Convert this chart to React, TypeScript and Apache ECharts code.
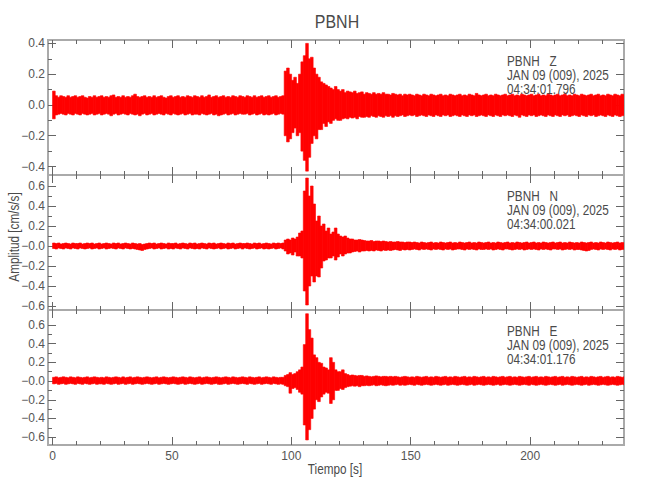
import React, { useEffect, useRef } from 'react';
import * as echarts from 'echarts';

// ---- texts ----
const STATION = 'PBNH';
const COMPONENTS = ['Z', 'N', 'E'];
const DATE_LABEL = 'JAN 09 (009), 2025';
const START_TIMES = ['04:34:01.796', '04:34:00.021', '04:34:01.176'];
const X_NAME = 'Tiempo [s]';
const Y_NAME = 'Amplitud [cm/s/s]';

// ---- axes ----
const X_MIN = -1.9;
const X_MAX = 239.3;
const X_MAJOR = [0, 50, 100, 150, 200];
const X_MINOR = [10, 20, 30, 40, 60, 70, 80, 90, 110, 120, 130, 140, 160, 170, 180, 190, 210, 220, 230];

const Y_MIN = [-0.455, -0.64, -0.684];
const Y_MAX = [0.422, 0.71, 0.76];
const Y_MAJOR = [
  [-0.4, -0.2, 0, 0.2, 0.4],
  [-0.6, -0.4, -0.2, 0, 0.2, 0.4, 0.6],
  [-0.6, -0.4, -0.2, 0, 0.2, 0.4, 0.6],
];
const Y_LABELS = [
  ['\u22120.4', '\u22120.2', '0.0', '0.2', '0.4'],
  ['\u22120.6', '\u22120.4', '\u22120.2', '\u22120.0', '0.2', '0.4', '0.6'],
  ['\u22120.6', '\u22120.4', '\u22120.2', '\u22120.0', '0.2', '0.4', '0.6'],
];
const Y_MINOR = [
  [-0.3, -0.1, 0.1, 0.3],
  [-0.5, -0.3, -0.1, 0.1, 0.3, 0.5],
  [-0.5, -0.3, -0.1, 0.1, 0.3, 0.5],
];

// ---- traces: per-second peak (upper) and trough (lower) amplitudes, t = 0..239 s ----
const Z_HI = [
  .09, .06, .05, .06, .055, .05, .06, .05, .055, .06,
  .05, .055, .06, .05, .045, .055, .05, .06, .05, .055,
  .06, .05, .055, .05, .06, .065, .05, .055, .05, .06,
  .05, .055, .05, .06, .07, .055, .05, .055, .06, .05,
  .055, .05, .06, .05, .055, .06, .05, .045, .055, .06,
  .05, .055, .06, .05, .055, .05, .06, .055, .05, .06,
  .055, .05, .06, .05, .055, .065, .05, .055, .06, .05,
  .055, .06, .05, .055, .05, .06, .055, .05, .06, .055,
  .05, .06, .055, .05, .06, .05, .055, .06, .05, .055,
  .06, .05, .055, .06, .05, .055, .06, .22, .24, .2,
  .16, .18, .14, .2, .28, .32, .4, .3, .31, .24,
  .2, .18, .15, .14, .13, .12, .11, .1, .12, .1,
  .09, .1, .08, .09, .085, .08, .09, .075, .08, .085,
  .07, .08, .075, .07, .08, .07, .075, .07, .08, .07,
  .07, .065, .075, .07, .065, .07, .06, .07, .065, .07,
  .065, .06, .07, .065, .06, .07, .065, .06, .07, .065,
  .06, .065, .07, .06, .065, .06, .07, .065, .06, .065,
  .07, .06, .065, .06, .07, .065, .06, .075, .065, .06,
  .065, .07, .06, .065, .06, .07, .065, .06, .065, .07,
  .06, .065, .07, .06, .065, .06, .07, .065, .06, .065,
  .07, .06, .065, .07, .06, .065, .06, .07, .065, .06,
  .065, .07, .06, .065, .07, .06, .065, .06, .07, .065,
  .06, .07, .065, .06, .065, .07, .06, .065, .07, .06,
  .065, .06, .07, .065, .06, .07, .065, .06, .07, .065,
];
const Z_LO = [
  -.09, -.065, -.06, -.055, -.06, -.065, -.055, -.06, -.065, -.055,
  -.06, -.065, -.055, -.06, -.065, -.06, -.055, -.065, -.06, -.055,
  -.065, -.06, -.055, -.06, -.07, -.06, -.055, -.065, -.06, -.055,
  -.06, -.065, -.055, -.06, -.065, -.06, -.07, -.06, -.055, -.065,
  -.06, -.055, -.065, -.06, -.055, -.06, -.065, -.055, -.06, -.065,
  -.055, -.06, -.065, -.06, -.055, -.065, -.06, -.055, -.065, -.06,
  -.06, -.065, -.055, -.06, -.065, -.06, -.055, -.065, -.06, -.07,
  -.065, -.06, -.055, -.065, -.06, -.055, -.065, -.06, -.055, -.06,
  -.06, -.055, -.065, -.06, -.055, -.065, -.06, -.055, -.065, -.06,
  -.065, -.06, -.055, -.065, -.06, -.055, -.06, -.2, -.24, -.22,
  -.18, -.15, -.2, -.18, -.3, -.36, -.43, -.34, -.25, -.2,
  -.22, -.16, -.16, -.12, -.14, -.11, -.12, -.1, -.09, -.1,
  -.1, -.09, -.085, -.09, -.08, -.085, -.08, -.09, -.075, -.08,
  -.08, -.075, -.08, -.07, -.075, -.08, -.07, -.075, -.08, -.07,
  -.075, -.07, -.08, -.07, -.075, -.07, -.065, -.075, -.07, -.065,
  -.07, -.065, -.075, -.07, -.065, -.07, -.075, -.065, -.07, -.075,
  -.065, -.07, -.075, -.065, -.07, -.065, -.075, -.07, -.065, -.07,
  -.075, -.065, -.07, -.075, -.065, -.07, -.065, -.075, -.07, -.065,
  -.07, -.075, -.065, -.07, -.075, -.065, -.07, -.075, -.065, -.07,
  -.065, -.07, -.075, -.065, -.07, -.08, -.065, -.07, -.075, -.065,
  -.07, -.065, -.075, -.07, -.065, -.07, -.075, -.065, -.07, -.075,
  -.065, -.07, -.075, -.065, -.07, -.065, -.075, -.07, -.065, -.07,
  -.075, -.065, -.07, -.075, -.065, -.07, -.065, -.075, -.07, -.065,
  -.07, -.075, -.065, -.07, -.075, -.065, -.07, -.075, -.07, -.065,
];
const N_HI = [
  .03, .025, .03, .02, .025, .03, .025, .02, .03, .025,
  .025, .03, .02, .025, .03, .025, .03, .02, .025, .03,
  .02, .025, .03, .025, .02, .03, .025, .03, .02, .025,
  .03, .025, .02, .03, .025, .02, .025, .015, .02, .025,
  .03, .025, .03, .02, .025, .03, .025, .02, .03, .025,
  .025, .03, .02, .025, .03, .025, .02, .03, .025, .03,
  .02, .025, .03, .025, .02, .03, .025, .03, .02, .025,
  .03, .025, .02, .03, .025, .03, .02, .025, .03, .025,
  .025, .03, .025, .02, .03, .025, .03, .02, .025, .03,
  .025, .02, .03, .025, .03, .025, .03, .06, .07, .06,
  .08, .07, .09, .13, .15, .55, .68, .5, .6, .42,
  .25, .3, .2, .22, .15, .18, .12, .14, .18, .12,
  .1, .09, .1, .08, .07, .07, .06, .06, .065, .06,
  .055, .05, .05, .055, .045, .05, .05, .045, .05, .045,
  .04, .045, .04, .04, .045, .04, .04, .035, .04, .04,
  .035, .04, .035, .03, .04, .035, .03, .035, .04, .03,
  .035, .03, .04, .035, .03, .035, .04, .03, .035, .03,
  .04, .035, .03, .035, .04, .03, .035, .03, .04, .035,
  .03, .035, .04, .03, .035, .03, .04, .035, .03, .035,
  .04, .03, .035, .03, .04, .035, .03, .035, .04, .03,
  .035, .04, .03, .035, .03, .04, .035, .03, .035, .04,
  .03, .035, .04, .03, .035, .03, .04, .035, .03, .035,
  .03, .04, .035, .03, .035, .04, .03, .035, .03, .04,
  .035, .03, .04, .035, .03, .035, .04, .03, .035, .03,
];
const N_LO = [
  -.025, -.03, -.02, -.025, -.03, -.02, -.025, -.03, -.02, -.025,
  -.03, -.02, -.025, -.03, -.025, -.02, -.03, -.025, -.02, -.03,
  -.025, -.02, -.03, -.025, -.02, -.025, -.03, -.02, -.025, -.03,
  -.02, -.025, -.03, -.025, -.03, -.035, -.04, -.045, -.035, -.03,
  -.025, -.02, -.03, -.025, -.02, -.03, -.025, -.02, -.03, -.025,
  -.03, -.02, -.025, -.03, -.02, -.025, -.03, -.02, -.025, -.03,
  -.025, -.03, -.02, -.025, -.03, -.02, -.025, -.03, -.025, -.02,
  -.03, -.025, -.02, -.03, -.025, -.02, -.03, -.025, -.02, -.03,
  -.02, -.025, -.03, -.025, -.02, -.03, -.025, -.02, -.03, -.025,
  -.03, -.025, -.02, -.03, -.025, -.02, -.03, -.05, -.08, -.07,
  -.09, -.06, -.1, -.1, -.12, -.45, -.59, -.4, -.3, -.36,
  -.3, -.31, -.22, -.15, -.14, -.12, -.12, -.1, -.14, -.11,
  -.08, -.1, -.08, -.07, -.07, -.06, -.055, -.05, -.06, -.05,
  -.05, -.045, -.05, -.045, -.05, -.04, -.045, -.05, -.04, -.045,
  -.04, -.045, -.04, -.035, -.04, -.045, -.035, -.04, -.035, -.04,
  -.035, -.03, -.035, -.04, -.03, -.035, -.03, -.035, -.04, -.03,
  -.035, -.03, -.035, -.04, -.03, -.035, -.03, -.04, -.035, -.03,
  -.03, -.035, -.04, -.03, -.035, -.03, -.035, -.04, -.03, -.035,
  -.035, -.03, -.035, -.03, -.04, -.035, -.03, -.035, -.04, -.03,
  -.03, -.035, -.04, -.035, -.03, -.035, -.03, -.04, -.035, -.03,
  -.035, -.03, -.035, -.04, -.03, -.035, -.03, -.035, -.04, -.03,
  -.03, -.035, -.03, -.04, -.035, -.03, -.035, -.03, -.04, -.035,
  -.035, -.04, -.045, -.05, -.045, -.035, -.03, -.035, -.04, -.03,
  -.035, -.03, -.035, -.04, -.03, -.035, -.03, -.04, -.035, -.03,
];
const E_HI = [
  .04, .045, .035, .04, .045, .04, .035, .045, .04, .035,
  .045, .04, .035, .04, .045, .035, .04, .045, .04, .035,
  .04, .035, .045, .04, .035, .04, .045, .04, .035, .045,
  .035, .04, .045, .035, .04, .045, .04, .035, .04, .045,
  .04, .035, .04, .045, .035, .04, .045, .04, .035, .04,
  .045, .04, .035, .04, .045, .04, .035, .045, .04, .035,
  .04, .045, .035, .04, .045, .04, .035, .04, .045, .04,
  .035, .04, .045, .04, .035, .045, .04, .035, .04, .045,
  .04, .035, .045, .04, .035, .04, .045, .035, .04, .045,
  .04, .035, .045, .04, .035, .04, .04, .06, .07, .09,
  .07, .08, .1, .12, .15, .39, .72, .55, .46, .28,
  .25, .2, .19, .15, .14, .12, .25, .2, .12, .1,
  .1, .12, .08, .07, .06, .065, .06, .055, .06, .06,
  .05, .055, .05, .045, .05, .055, .05, .045, .05, .05,
  .045, .05, .045, .05, .045, .04, .045, .05, .045, .04,
  .045, .04, .05, .045, .04, .045, .05, .04, .045, .04,
  .05, .045, .04, .045, .05, .04, .045, .04, .05, .045,
  .04, .045, .05, .04, .045, .04, .05, .045, .04, .045,
  .05, .04, .045, .04, .05, .045, .04, .045, .05, .04,
  .045, .05, .04, .045, .04, .05, .045, .04, .045, .05,
  .04, .045, .05, .04, .045, .04, .05, .045, .04, .045,
  .05, .04, .045, .05, .04, .045, .04, .05, .045, .04,
  .045, .05, .04, .045, .04, .05, .045, .04, .045, .05,
  .04, .045, .05, .04, .045, .04, .05, .045, .04, .045,
];
const E_LO = [
  -.03, -.025, -.035, -.03, -.025, -.035, -.03, -.025, -.03, -.035,
  -.025, -.03, -.035, -.025, -.03, -.035, -.03, -.025, -.035, -.03,
  -.03, -.035, -.025, -.03, -.035, -.03, -.025, -.035, -.03, -.025,
  -.035, -.03, -.025, -.035, -.03, -.025, -.03, -.035, -.03, -.025,
  -.03, -.035, -.03, -.025, -.035, -.03, -.025, -.03, -.035, -.03,
  -.025, -.03, -.035, -.03, -.025, -.035, -.03, -.025, -.03, -.035,
  -.03, -.025, -.035, -.03, -.025, -.03, -.035, -.03, -.025, -.035,
  -.035, -.03, -.025, -.035, -.03, -.025, -.03, -.035, -.03, -.025,
  -.03, -.035, -.025, -.03, -.035, -.03, -.025, -.035, -.03, -.025,
  -.03, -.035, -.025, -.03, -.035, -.03, -.035, -.05, -.06, -.13,
  -.08, -.07, -.09, -.12, -.14, -.47, -.63, -.52, -.4, -.3,
  -.2, -.22, -.17, -.14, -.12, -.13, -.24, -.2, -.1, -.1,
  -.08, -.09, -.07, -.06, -.055, -.05, -.055, -.05, -.06, -.05,
  -.05, -.045, -.05, -.045, -.04, -.05, -.045, -.04, -.045, -.05,
  -.045, -.04, -.045, -.04, -.035, -.045, -.04, -.045, -.04, -.035,
  -.04, -.045, -.035, -.04, -.045, -.04, -.035, -.04, -.045, -.04,
  -.035, -.04, -.045, -.04, -.035, -.045, -.04, -.035, -.04, -.045,
  -.04, -.035, -.04, -.045, -.04, -.035, -.045, -.04, -.035, -.04,
  -.045, -.04, -.035, -.04, -.045, -.04, -.035, -.045, -.04, -.035,
  -.04, -.045, -.04, -.035, -.04, -.045, -.04, -.035, -.04, -.045,
  -.035, -.04, -.045, -.04, -.035, -.04, -.045, -.04, -.035, -.04,
  -.045, -.04, -.035, -.045, -.04, -.035, -.04, -.045, -.04, -.035,
  -.04, -.045, -.04, -.035, -.045, -.04, -.035, -.04, -.045, -.04,
  -.035, -.04, -.045, -.04, -.035, -.04, -.045, -.04, -.035, -.04,
];

const TRACES = [
  [Z_HI, Z_LO],
  [N_HI, N_LO],
  [E_HI, E_LO],
];

// ---- layout / style ----
const FONT = '"Liberation Sans", Arial, sans-serif';
const GRID_LEFT = 48;
const GRID_RIGHT = 26;
const GRID_TOPS = [40, 175, 310];
const GRID_H = 135;
const TICK_COLOR = '#666666';
const LABEL_COLOR = '#555555';
const TEXT_COLOR = '#4a4a4a';
const TRACE_COLOR = '#ff0000';
const NARROW = 0.84;

function tick(values: number[], length: number) {
  return { show: true, inside: true, length, customValues: values, lineStyle: { color: TICK_COLOR, width: 1 } };
}

function makeXAxes(g: number) {
  const base = {
    gridIndex: g, type: 'value', min: X_MIN, max: X_MAX,
    splitLine: { show: false }, axisLine: { show: false, onZero: false },
  };
  return [
    {
      ...base, position: 'bottom', axisTick: tick(X_MAJOR, 8),
      axisLabel: {
        show: g === 2, customValues: X_MAJOR, margin: 5, color: LABEL_COLOR,
        fontSize: 12, fontFamily: FONT, formatter: (v: number) => String(v),
      },
    },
    { ...base, position: 'bottom', axisTick: tick(X_MINOR, 4), axisLabel: { show: false } },
    { ...base, position: 'top', axisTick: tick(X_MAJOR, 8), axisLabel: { show: false } },
    { ...base, position: 'top', axisTick: tick(X_MINOR, 4), axisLabel: { show: false } },
  ];
}

function makeYAxes(g: number) {
  const base = {
    gridIndex: g, type: 'value', min: Y_MIN[g], max: Y_MAX[g],
    splitLine: { show: false }, axisLine: { show: false, onZero: false },
  };
  const majors = Y_MAJOR[g];
  const labels = Y_LABELS[g];
  return [
    {
      ...base, position: 'left', axisTick: tick(majors, 8),
      axisLabel: {
        show: true, customValues: majors, margin: 3, color: LABEL_COLOR,
        fontSize: 12, fontFamily: FONT,
        formatter: (v: number) => {
          const k = majors.findIndex((m) => Math.abs(m - v) < 1e-6);
          return k >= 0 ? labels[k] : '';
        },
      },
    },
    { ...base, position: 'left', axisTick: tick(Y_MINOR[g], 4), axisLabel: { show: false } },
    { ...base, position: 'right', axisTick: tick(majors, 8), axisLabel: { show: false } },
    { ...base, position: 'right', axisTick: tick(Y_MINOR[g], 4), axisLabel: { show: false } },
  ];
}

function textEl(x: number, y: number, text: string, fontSize: number, align: string, extra: any = {}) {
  return {
    type: 'text', x, y, scaleX: NARROW, ...extra,
    style: { text, fontSize, fontFamily: FONT, fill: TEXT_COLOR, align, verticalAlign: 'middle' },
  };
}

export default function App() {
  const ref = useRef<HTMLDivElement>(null);
  useEffect(() => {
    if (!ref.current) return;
    const chart = echarts.init(ref.current, null, { renderer: 'svg' });
    const grids = GRID_TOPS.map((top) => ({
      left: GRID_LEFT, right: GRID_RIGHT, top, height: GRID_H,
      show: true, borderColor: '#aaaaaa', borderWidth: 2, backgroundColor: 'transparent',
    }));
    const xAxis: any[] = [];
    const yAxis: any[] = [];
    for (let g = 0; g < 3; g++) {
      xAxis.push(...makeXAxes(g));
      yAxis.push(...makeYAxes(g));
    }
    // each second of record drawn as a vertical span from its trough to its peak
    const series = TRACES.map(([hi, lo], g) => ({
      type: 'custom', xAxisIndex: g * 4, yAxisIndex: g * 4,
      data: hi.map((h, i) => [i, lo[i], h]),
      clip: true, z: 1,
      renderItem: (_p: any, api: any) => {
        const t = api.value(0);
        const top = api.coord([t, api.value(2)]);
        const bot = api.coord([t + 1, api.value(1)]);
        return {
          type: 'rect',
          shape: { x: top[0], y: top[1], width: bot[0] - top[0] + 0.3, height: bot[1] - top[1] },
          style: { fill: TRACE_COLOR, stroke: TRACE_COLOR, lineWidth: 0.6 },
        };
      },
    }));
    const graphic: any[] = [
      textEl(337, 22, STATION, 19, 'center'),
      textEl(335, 469, X_NAME, 14, 'center'),
      textEl(14, 237, Y_NAME, 14, 'center', { rotation: Math.PI / 2 }),
    ];
    GRID_TOPS.forEach((top, g) => {
      const lines = [`${STATION}   ${COMPONENTS[g]}`, DATE_LABEL, START_TIMES[g]];
      lines.forEach((t, k) => {
        graphic.push(textEl(507, top + 21.5 + k * 14, t, 14, 'left'));
      });
    });
    chart.setOption({
      animation: false,
      backgroundColor: '#ffffff',
      grid: grids,
      xAxis,
      yAxis,
      series,
      graphic,
    });
    return () => chart.dispose();
  }, []);
  return <div ref={ref} style={{ position: 'fixed', left: 0, top: 0, width: 650, height: 500 }} />;
}
